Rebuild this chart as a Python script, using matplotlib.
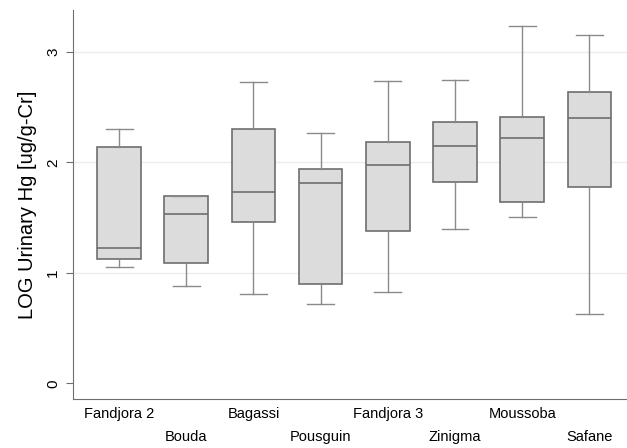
import numpy as np
import matplotlib.pyplot as plt

plt.rcParams['font.family'] = ['Liberation Sans', 'DejaVu Sans']

sites = ['Fandjora 2', 'Bouda', 'Bagassi', 'Pousguin',
         'Fandjora 3', 'Zinigma', 'Moussoba', 'Safane']
whislo = [1.055, 0.883, 0.805, 0.715, 0.824, 1.394, 1.505, 0.627]
q1 = [1.122, 1.086, 1.46, 0.896, 1.376, 1.822, 1.643, 1.776]
med = [1.222, 1.53, 1.728, 1.815, 1.976, 2.15, 2.217, 2.40]
q3 = [2.136, 1.695, 2.30, 1.94, 2.187, 2.362, 2.41, 2.633]
whishi = [2.30, 1.70, 2.73, 2.262, 2.736, 2.745, 3.234, 3.152]

stats = []
for i in range(len(sites)):
    stats.append(dict(label=sites[i], whislo=whislo[i], q1=q1[i], med=med[i],
                      q3=q3[i], whishi=whishi[i], fliers=[]))

edge = '#6e6e6e'
fig = plt.figure(figsize=(6.27, 4.48), dpi=100)
ax = fig.add_axes([0.116, 0.109, 0.884, 0.869])

pos = np.arange(1, len(sites) + 1)
ax.bxp(stats, positions=pos, widths=0.65, patch_artist=True, showfliers=False,
       capwidths=0.4,
       boxprops=dict(facecolor='#dcdcdc', edgecolor=edge, linewidth=1.2),
       medianprops=dict(color=edge, linewidth=1.2),
       whiskerprops=dict(color='#8a8a8a', linewidth=1.0),
       capprops=dict(color='#8a8a8a', linewidth=1.0))

ax.set_xlim(0.31, 8.56)
ax.set_ylim(-0.142, 3.38)
ax.set_yticks([0, 1, 2, 3])
ax.set_yticklabels(['0', '1', '2', '3'], rotation=90, va='center', fontsize=11)
for y in [1, 2, 3]:
    ax.axhline(y, color='#ececec', linewidth=1.0, zorder=0)

ax.set_xticks(pos)
ax.set_xticklabels([])
ax.tick_params(axis='x', length=0)
ax.tick_params(axis='y', length=5, color=edge, pad=4)
for i, s in enumerate(sites):
    yoff = -0.02 if i % 2 == 0 else -0.078
    ax.text(pos[i], yoff, s, transform=ax.get_xaxis_transform(),
            ha='center', va='top', fontsize=10.5)

ax.set_ylabel('LOG Urinary Hg [ug/g-Cr]', fontsize=14.5, labelpad=7)
for side in ['top', 'right']:
    ax.spines[side].set_visible(False)
for side in ['left', 'bottom']:
    ax.spines[side].set_color(edge)

fig.savefig('out.png', dpi=100, facecolor='white')
